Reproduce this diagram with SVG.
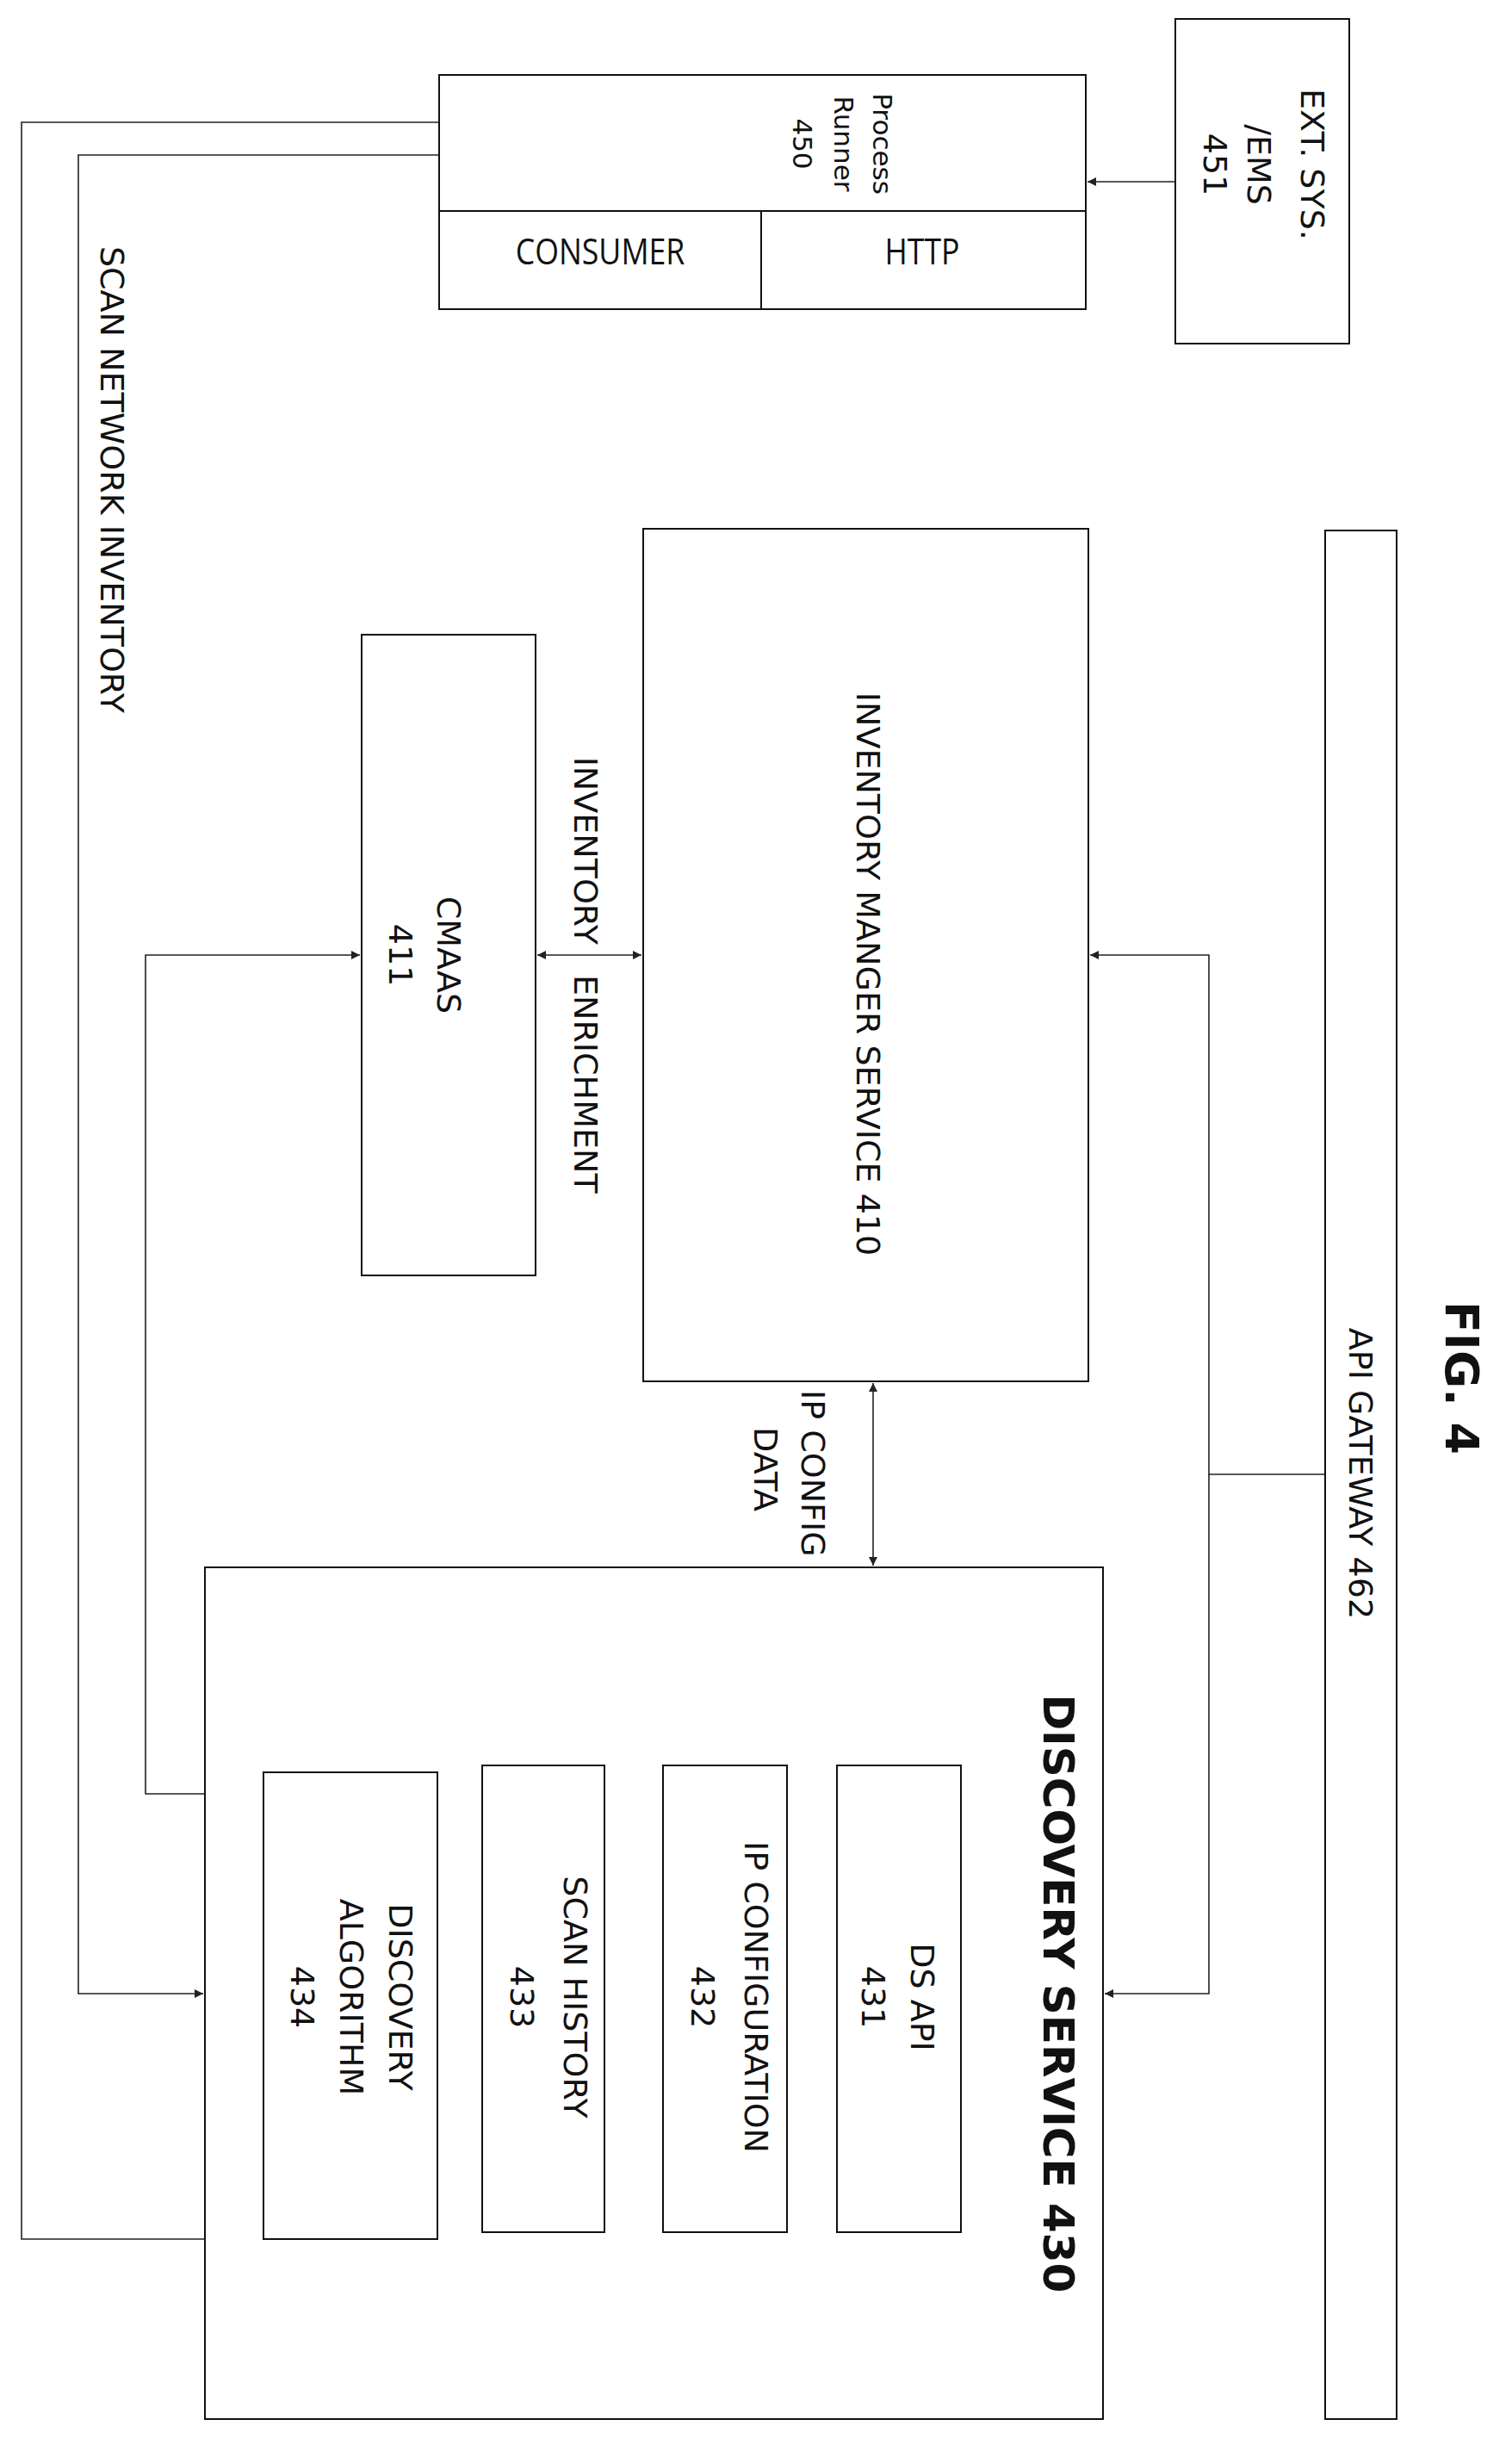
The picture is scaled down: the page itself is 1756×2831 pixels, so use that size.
<svg xmlns="http://www.w3.org/2000/svg" width="1756" height="2831" viewBox="0 0 1756 2831">
<style>
.b{fill:#fff;stroke:#111;stroke-width:2}
.t{font-family:"DejaVu Sans",sans-serif;font-size:38px;fill:#111;text-anchor:middle;dominant-baseline:central}
.n{font-family:"Open Sans",sans-serif;font-size:42px;fill:#111;text-anchor:middle;dominant-baseline:central}
.bd{font-weight:bold}
.c{fill:none;stroke:#222;stroke-width:1.6}
</style>
<defs>
<marker id="a" viewBox="0 0 10 10" refX="10" refY="5" markerWidth="10" markerHeight="10" markerUnits="userSpaceOnUse" orient="auto-start-reverse"><path d="M0,0 L10,5 L0,10 z" fill="#222"/></marker>
</defs>
<rect width="1756" height="2831" fill="#fff"/>
<g id="connectors">
<path class="c" d="M510 142 H25 V2600 H238"/>
<path class="c" d="M510 180 H91 V2315 H236" marker-end="url(#a)"/>
<path class="c" d="M1365 211 H1263" marker-end="url(#a)"/>
<path class="c" d="M238 2083 H169 V1109 H418" marker-end="url(#a)"/>
<path class="c" d="M624 1109 H745" marker-start="url(#a)" marker-end="url(#a)"/>
<path class="c" d="M1014 1606 V1818" marker-start="url(#a)" marker-end="url(#a)"/>
<path class="c" d="M1539 1712 H1404 V1109 H1266" marker-end="url(#a)"/>
<path class="c" d="M1404 1712 V2315 H1283" marker-end="url(#a)"/>
<text class="t" transform="translate(130,557) rotate(90)">SCAN NETWORK INVENTORY</text>
<text class="t" transform="translate(680,1097) rotate(90)" style="text-anchor:end">INVENTORY</text>
<text class="t" transform="translate(680,1132) rotate(90)" style="text-anchor:start">ENRICHMENT</text>
<text class="t" transform="translate(944,1614) rotate(90)" style="text-anchor:start">IP CONFIG</text>
<text class="t" transform="translate(889,1706) rotate(90)">DATA</text>
</g>
<g id="process-runner">
<rect class="b" x="510" y="87" width="751" height="158"/>
<text class="t" style="font-size:31px" transform="translate(1025,167) rotate(90)">Process</text>
<text class="t" style="font-size:31px" transform="translate(980,167) rotate(90)">Runner</text>
<text class="t" style="font-size:31px" transform="translate(932,167) rotate(90)">450</text>
</g>
<g id="consumer">
<rect class="b" x="510" y="245" width="374" height="114"/>
<text class="n" transform="translate(697,290) scale(0.85,1)">CONSUMER</text>
</g>
<g id="http">
<rect class="b" x="884" y="245" width="377" height="114"/>
<text class="n" transform="translate(1071,290) scale(0.85,1)">HTTP</text>
</g>
<g id="ext-sys">
<rect class="b" x="1365" y="22" width="202" height="377"/>
<text class="t" transform="translate(1524,191) rotate(90)">EXT. SYS.</text>
<text class="t" transform="translate(1462,191) rotate(90)">/EMS</text>
<text class="t" transform="translate(1411,191) rotate(90)">451</text>
</g>
<g id="api-gateway">
<rect class="b" x="1539" y="616" width="83" height="2193"/>
<text class="t" transform="translate(1580,1711) rotate(90)">API GATEWAY 462</text>
</g>
<g id="fig">
<text class="t bd" style="font-size:54px" transform="translate(1697,1600) rotate(90)">FIG. 4</text>
</g>
<g id="inventory-manager">
<rect class="b" x="747" y="614" width="517" height="990"/>
<text class="t" transform="translate(1008,1131) rotate(90)">INVENTORY MANGER SERVICE 410</text>
</g>
<g id="cmaas">
<rect class="b" x="420" y="737" width="202" height="744"/>
<text class="t" transform="translate(521,1109) rotate(90)">CMAAS</text>
<text class="t" transform="translate(465,1109) rotate(90)">411</text>
</g>
<g id="discovery-service">
<rect class="b" x="238" y="1820" width="1043" height="989"/>
<text class="t bd" style="font-size:50px" transform="translate(1229,2315) rotate(90)">DISCOVERY SERVICE 430</text>
</g>
<g id="ds-api">
<rect class="b" x="972" y="2050" width="144" height="542"/>
<text class="t" transform="translate(1071,2319) rotate(90)">DS API</text>
<text class="t" transform="translate(1014,2319) rotate(90)">431</text>
</g>
<g id="ip-configuration">
<rect class="b" x="770" y="2050" width="144" height="542"/>
<text class="t" transform="translate(878,2319) rotate(90)">IP CONFIGURATION</text>
<text class="t" transform="translate(816,2319) rotate(90)">432</text>
</g>
<g id="scan-history">
<rect class="b" x="560" y="2050" width="142" height="542"/>
<text class="t" transform="translate(668,2319) rotate(90)">SCAN HISTORY</text>
<text class="t" transform="translate(606,2319) rotate(90)">433</text>
</g>
<g id="discovery-algorithm">
<rect class="b" x="306" y="2058" width="202" height="542"/>
<text class="t" transform="translate(465,2319) rotate(90)">DISCOVERY</text>
<text class="t" transform="translate(408,2319) rotate(90)">ALGORITHM</text>
<text class="t" transform="translate(351,2319) rotate(90)">434</text>
</g>
</svg>
